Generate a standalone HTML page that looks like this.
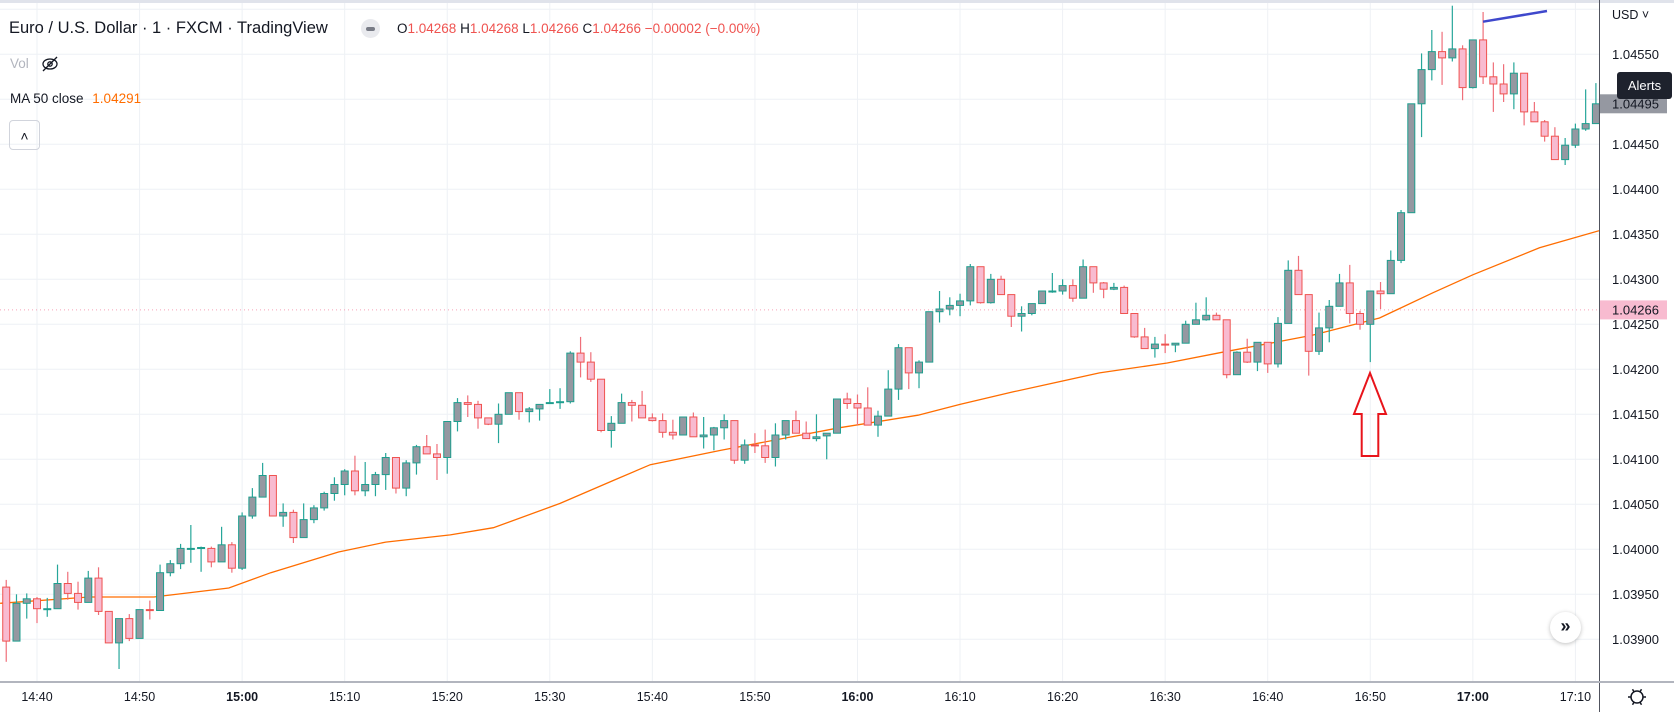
<!DOCTYPE html>
<html><head><meta charset="utf-8">
<style>
html,body{margin:0;padding:0;background:#fff;}
body{width:1674px;height:712px;overflow:hidden;position:relative;font-family:"Liberation Sans",sans-serif;}
svg{position:absolute;left:0;top:0;}
.hdr{position:absolute;white-space:nowrap;}
</style></head>
<body>
<svg id="chart" width="1674" height="712"></svg>

<div class="hdr" style="left:9px;top:19px;font-size:16.5px;color:#131722;">Euro / U.S. Dollar · 1 · FXCM · TradingView</div>
<div class="hdr" style="left:361px;top:19px;width:19px;height:19px;border-radius:10px;background:#e9eaee;"><div style="position:absolute;left:5px;top:8px;width:9px;height:4px;border-radius:2px;background:#787b86;"></div></div>
<div class="hdr" style="left:397px;top:21px;font-size:13.5px;color:#131722;">O<span style="color:#ef5350">1.04268</span> H<span style="color:#ef5350">1.04268</span> L<span style="color:#ef5350">1.04266</span> C<span style="color:#ef5350">1.04266 −0.00002 (−0.00%)</span></div>
<div class="hdr" style="left:10px;top:56px;font-size:13.5px;color:#b2b5be;">Vol</div>
<svg style="left:40px;top:55px;" width="20" height="18"><ellipse cx="10" cy="9" rx="7" ry="5" fill="none" stroke="#131722" stroke-width="1.3"/><circle cx="10" cy="9" r="2.2" fill="none" stroke="#131722" stroke-width="1.3"/><line x1="3" y1="16" x2="17" y2="2" stroke="#131722" stroke-width="1.3"/></svg>
<div class="hdr" style="left:10px;top:91px;font-size:13.5px;color:#131722;">MA 50 close <span style="color:#ff6d00;margin-left:5px;">1.04291</span></div>
<div class="hdr" style="left:9px;top:120px;width:31px;height:30px;border:1px solid #d1d4dc;border-radius:4px;box-sizing:border-box;text-align:center;font-size:14px;line-height:30px;color:#131722;">&#708;</div>

<div class="hdr" style="left:1612px;top:8px;font-size:12.5px;color:#131722;">USD ˅</div>
<div class="hdr" style="left:1617px;top:72px;width:55px;height:27px;background:#1e222d;border-radius:3px;color:#fff;font-size:13px;line-height:27px;text-align:center;">Alerts</div>
<div class="hdr" style="left:1550px;top:612px;width:31px;height:31px;border-radius:16px;background:#fff;box-shadow:0 1px 4px rgba(0,0,0,0.25);text-align:center;line-height:29px;font-size:18px;font-weight:bold;color:#131722;">»</div>

<script>
// prices in units of 0.00001 above 1.0 (e.g. 3958 => 1.03958); first candle at 14:37, 1-minute bars
const startTime = "14:37";
const opens = [3958,3898,3940,3945,3934,3934,3962,3951,3941,3968,3931,3896,3923,3901,3933,3932,3974,3984,4001,4001,4001,3986,4005,3979,4037,4058,4082,4037,4041,4013,4033,4046,4062,4072,4087,4065,4072,4083,4102,4068,4096,4114,4106,4102,4142,4163,4161,4146,4139,4150,4174,4153,4156,4162,4163,4164,4218,4208,4189,4132,4140,4163,4160,4146,4143,4130,4127,4147,4125,4127,4135,4143,4099,4116,4115,4102,4127,4143,4129,4123,4126,4129,4167,4162,4157,4138,4148,4178,4224,4196,4208,4264,4267,4271,4276,4314,4274,4300,4283,4259,4262,4273,4286,4287,4293,4279,4314,4296,4289,4291,4262,4236,4223,4228,4227,4229,4250,4255,4260,4255,4194,4219,4208,4230,4206,4251,4310,4283,4220,4246,4270,4296,4262,4250,4287,4284,4321,4374,4495,4533,4553,4546,4556,4513,4566,4525,4517,4506,4529,4486,4475,4459,4433,4449,4467,4473];
const highs = [3966,3950,3951,3947,3946,3983,3975,3964,3976,3980,3931,3923,3928,3933,3943,3983,3988,4006,4027,4003,4003,4025,4008,4041,4068,4096,4082,4051,4044,4051,4049,4064,4080,4089,4104,4097,4086,4107,4102,4099,4116,4127,4117,4142,4168,4171,4165,4146,4162,4174,4174,4158,4161,4178,4179,4220,4236,4219,4189,4148,4173,4166,4176,4151,4151,4144,4147,4152,4147,4136,4150,4143,4122,4129,4133,4140,4143,4154,4142,4150,4129,4167,4174,4172,4180,4154,4199,4228,4224,4210,4264,4287,4280,4284,4317,4314,4306,4304,4283,4270,4273,4287,4307,4300,4300,4322,4314,4297,4296,4293,4262,4246,4236,4239,4229,4254,4274,4280,4263,4255,4220,4234,4230,4230,4258,4321,4326,4283,4263,4277,4306,4316,4265,4287,4297,4332,4377,4495,4551,4577,4575,4604,4560,4566,4597,4541,4539,4541,4529,4497,4477,4469,4457,4473,4511,4518];
const lows = [3875,3898,3923,3918,3925,3934,3944,3933,3941,3927,3896,3867,3898,3901,3922,3932,3970,3978,3985,3975,3980,3986,3974,3977,4034,4058,4037,4025,4007,4013,4029,4043,4054,4060,4060,4059,4059,4066,4062,4059,4083,4106,4077,4084,4131,4147,4134,4138,4118,4150,4144,4141,4143,4162,4156,4162,4191,4186,4130,4113,4140,4142,4146,4142,4124,4122,4127,4125,4112,4110,4122,4095,4095,4107,4096,4092,4122,4129,4123,4120,4100,4129,4156,4138,4138,4125,4148,4166,4178,4179,4208,4252,4260,4259,4271,4273,4273,4283,4247,4242,4260,4273,4285,4283,4275,4279,4285,4279,4288,4262,4235,4223,4213,4218,4219,4229,4250,4254,4255,4190,4194,4207,4198,4196,4202,4251,4283,4193,4216,4230,4270,4251,4244,4208,4267,4284,4318,4374,4458,4521,4516,4542,4499,4512,4517,4486,4497,4489,4471,4475,4453,4433,4427,4446,4465,4473];
const closes = [3898,3940,3945,3934,3934,3962,3951,3941,3968,3931,3896,3923,3901,3933,3932,3974,3984,4001,4001,4002,3986,4005,3979,4037,4058,4082,4037,4041,4013,4033,4046,4062,4072,4087,4065,4072,4083,4102,4068,4096,4114,4106,4102,4142,4163,4161,4146,4139,4150,4174,4153,4156,4161,4163,4164,4218,4208,4189,4132,4140,4163,4160,4146,4143,4130,4127,4147,4125,4127,4135,4143,4099,4116,4115,4102,4127,4143,4129,4123,4125,4129,4167,4162,4157,4138,4148,4178,4224,4196,4208,4264,4267,4271,4276,4314,4274,4300,4283,4259,4262,4273,4287,4287,4293,4279,4314,4296,4289,4291,4262,4236,4223,4228,4227,4229,4250,4255,4260,4255,4194,4219,4208,4230,4206,4251,4310,4283,4220,4246,4270,4296,4262,4250,4287,4284,4321,4374,4495,4533,4553,4546,4556,4513,4566,4525,4517,4506,4529,4486,4475,4459,4433,4449,4467,4473,4495];
// MA(50) sampled: minutes after 14:40 and value
const maMinutes = [-3.6,5.1,11.4,18.7,22.8,29.4,34,40.3,44.5,51,56.3,59.8,66.7,78.2,85.9,90,95.2,103.6,110.2,115.6,121.2,124.4,130.9,136.1,140,146.5,152.3];
const maValues = [3940,3947,3947,3957,3974,3997,4008,4016,4024,4051,4077,4094,4110,4135,4149,4161,4175,4196,4207,4219,4231,4238,4257,4285,4305,4335,4354];
const priceTicks = [4550,4500,4450,4400,4350,4300,4250,4200,4150,4100,4050,4000,3950,3900];
const timeTicks = ["14:40","14:50","15:00","15:10","15:20","15:30","15:40","15:50","16:00","16:10","16:20","16:30","16:40","16:50","17:00","17:10"];
const lastPrice = 4495, hoverPrice = 4266;

const NS = "http://www.w3.org/2000/svg";
const svg = document.getElementById('chart');
const PW = 1599, PB = 681;
function xOfMin(m){ return 37 + m*10.256; }
function yOf(p){ return 54.3 + (4550 - p)*0.9; }
function minOf(hhmm){ const a = hhmm.split(':'); return (+a[0]*60 + +a[1]) - (14*60+40); }
function mk(tag, attrs, parent){ const e = document.createElementNS(NS, tag); for (const k in attrs) e.setAttribute(k, attrs[k]); (parent||svg).appendChild(e); return e; }
function fmt(p){ return (1 + p/100000).toFixed(5); }

const clip = mk('clipPath', {id:'pc'}); mk('rect', {x:0,y:0,width:PW,height:PB}, clip);
mk('rect', {x:0,y:0,width:1674,height:3,fill:'#e0e3eb'});

// grid
const grid = mk('g', {});


for (let p = 4600; p >= 3850; p -= 50) { const y = yOf(p); if (y > 3 && y < PB) mk('line', {x1:0,x2:PW,y1:y,y2:y,stroke:'#eef1f5','stroke-width':1}, grid); }
timeTicks.forEach(t => { const x = xOfMin(minOf(t)); mk('line', {x1:x,x2:x,y1:3,y2:PB,stroke:'#eef1f5','stroke-width':1}, grid); });

// hover dotted line
const dl = mk('line', {x1:0,x2:PW,y1:yOf(hoverPrice),y2:yOf(hoverPrice),stroke:'#f7a1b8','stroke-width':1,'stroke-dasharray':'1,3'});



// MA
const maPts = maMinutes.map((m,i) => xOfMin(m).toFixed(1) + ',' + yOf(maValues[i]).toFixed(1)).join(' ');
const ma = mk('polyline', {points:maPts,fill:'none',stroke:'#ff6d00','stroke-width':1.3,'clip-path':'url(#pc)'});



// candles
const cg = mk('g', {'clip-path':'url(#pc)'});


const m0 = minOf(startTime);
opens.forEach((o,i) => {
  const c = closes[i], h = highs[i], l = lows[i];
  const x = xOfMin(m0 + i);
  const up = c >= o;
  const g = mk('g', {}, cg);
  
  
  mk('line', {x1:x,x2:x,y1:yOf(h),y2:yOf(l),stroke: up ? '#26a69a' : '#ef6f7a','stroke-width':1.2}, g);
  const top = yOf(Math.max(o,c)), bot = yOf(Math.min(o,c));
  mk('rect', {x:x-3.5,y:top,width:7,height:Math.max(1,bot-top),fill: up ? '#9598a1' : '#f8bbd0',stroke: up ? '#1e9e8e' : '#ef5350','stroke-width':1}, g);
});

// drawn trend line (blue)
const bl = mk('line', {x1:1483,y1:21.7,x2:1547,y2:11,stroke:'#3f48cc','stroke-width':2.5});



// red arrow annotation
const ar = mk('polygon', {points:'1370,373 1386,414 1378.3,414 1378.3,456 1361.7,456 1361.7,414 1354,414',fill:'none',stroke:'#e8141b','stroke-width':2});



// axes
mk('line', {x1:PW+0.5,x2:PW+0.5,y1:0,y2:712,stroke:'#50535e','stroke-width':1});
mk('line', {x1:0,x2:1674,y1:PB+1,y2:PB+1,stroke:'#b2b5be','stroke-width':2});
const pa = mk('g', {});


priceTicks.forEach(p => {
  const t = mk('text', {x:1612,y:yOf(p)+4.5,'font-size':13,fill:'#131722','font-family':'Liberation Sans, sans-serif'}, pa);
  t.textContent = fmt(p);
});
// last price & hover markers
const lm = mk('g', {});


mk('rect', {x:PW+1,y:yOf(lastPrice)-9.5,width:67,height:19,fill:'#9598a1'}, lm);
const lt = mk('text', {x:1612,y:yOf(lastPrice)+4.5,'font-size':13,fill:'#131722','font-family':'Liberation Sans, sans-serif'}, lm); lt.textContent = fmt(lastPrice);
const hm = mk('g', {});


mk('rect', {x:PW+1,y:yOf(hoverPrice)-9.5,width:67,height:19,fill:'#f8bbd0'}, hm);
const ht = mk('text', {x:1612,y:yOf(hoverPrice)+4.5,'font-size':13,fill:'#131722','font-family':'Liberation Sans, sans-serif'}, hm); ht.textContent = fmt(hoverPrice);

const ta = mk('g', {});


timeTicks.forEach(t => {
  const bold = /:00$/.test(t);
  const e = mk('text', {x:xOfMin(minOf(t)),y:701,'text-anchor':'middle','font-size':12.5,fill:'#131722','font-weight':bold?'bold':'normal','font-family':'Liberation Sans, sans-serif'}, ta);
  e.textContent = t;
});
// settings gear
const gear = mk('g', {});


mk('circle', {cx:1637,cy:697,r:6,fill:'none',stroke:'#131722','stroke-width':1.5}, gear);
for (let k = 0; k < 6; k++) { const a = k*Math.PI/3; mk('line', {x1:1637+6*Math.cos(a),y1:697+6*Math.sin(a),x2:1637+9*Math.cos(a),y2:697+9*Math.sin(a),stroke:'#131722','stroke-width':1.5}, gear); }
</script>
</body></html>
